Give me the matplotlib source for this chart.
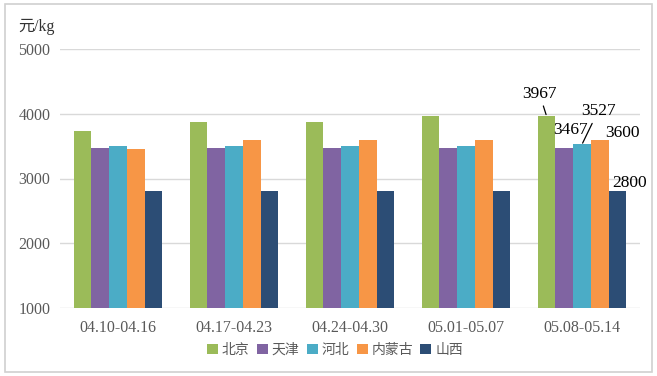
import matplotlib
matplotlib.use("Agg")
import matplotlib.pyplot as plt
import numpy as np
from matplotlib.patches import Rectangle

plt.rcParams['font.family'] = ['Liberation Serif', 'Noto Sans CJK SC', 'DejaVu Sans']

categories = ["04.10-04.16", "04.17-04.23", "04.24-04.30", "05.01-05.07", "05.08-05.14"]
series_names = ["北京", "天津", "河北", "内蒙古", "山西"]
beijing = [3733, 3867, 3867, 3967, 3967]
tianjin = [3467, 3467, 3467, 3467, 3467]
hebei = [3500, 3500, 3500, 3500, 3527]
neimenggu = [3450, 3600, 3600, 3600, 3600]
shanxi = [2800, 2800, 2800, 2800, 2800]
series = [beijing, tianjin, hebei, neimenggu, shanxi]
colors = ["#9BBB59", "#8064A2", "#4BACC6", "#F79646", "#2C4D75"]
yticks = [1000, 2000, 3000, 4000, 5000]

fig = plt.figure(figsize=(6.57, 3.76), dpi=100)
fig.patches.append(Rectangle((5/657, 4/376), 647/657, 368/376, transform=fig.transFigure,
                             fill=False, edgecolor="#d0d0d0", linewidth=1.2))
ax = fig.add_axes([60/657, 1 - 308/376, 580/657, 259/376])

x = np.arange(len(categories))
w = 0.153
bars = []
for j, (vals, c, name) in enumerate(zip(series, colors, series_names)):
    b = ax.bar(x + (j - 2) * w, np.array(vals) - 1000, width=w, bottom=1000, color=c, label=name, zorder=3)
    bars.append(b)

ax.set_ylim(1000, 5000)
ax.set_xlim(-0.5, len(categories) - 0.5)
ax.set_yticks(yticks)
ax.set_yticklabels([str(v) for v in yticks], fontsize=11.5, color="#595959")
ax.set_xticks(x)
ax.set_xticklabels(categories, fontsize=11.5, color="#595959")
ax.yaxis.grid(True, color="#d9d9d9", linewidth=1, zorder=0)
for s in ax.spines.values():
    s.set_visible(False)
ax.tick_params(axis='y', length=0, pad=7)
ax.tick_params(axis='x', length=0, pad=9)

fig.text(18/657, 1 - 27/376, "元/kg", fontsize=11.5, color="#333333", va="center")

# data labels on the last group
last = len(categories) - 1
label_specs = [
    (0, (-7, 22), True),
    (1, (6, 18), False),
    (2, (16, 33), True),
    (3, (23, 7), False),
    (4, (12, 8), False),
]
for j, off, leader in label_specs:
    xv = x[last] + (j - 2) * w
    yv = series[j][last]
    kw = dict(arrowprops=dict(arrowstyle='-', color='black', lw=0.9, shrinkA=1, shrinkB=1)) if leader else {}
    ax.annotate(str(yv), xy=(xv, yv), xytext=off, textcoords='offset pixels',
                ha='center', va='center', fontsize=12.5, color='black', zorder=5, **kw)

fig.legend(handles=bars, labels=series_names, loc='center', bbox_to_anchor=(335/657, 1 - 350/376),
           ncol=5, frameon=False, fontsize=10, handlelength=0.8, handleheight=0.8,
           handletextpad=0.3, columnspacing=0.5, labelcolor="#595959")

fig.savefig("out.png", dpi=100)
